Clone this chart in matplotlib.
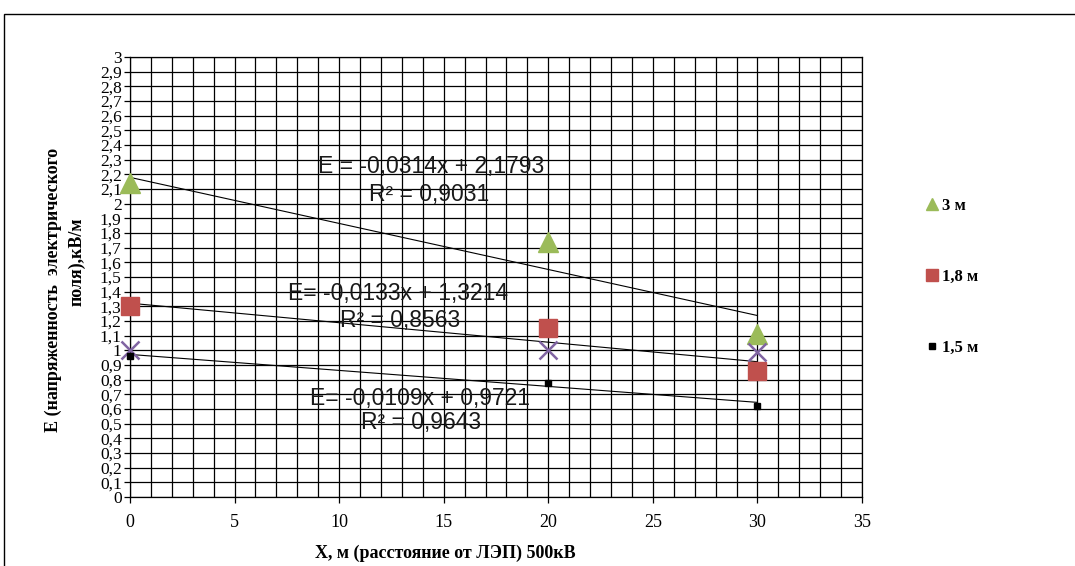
import matplotlib
matplotlib.use("Agg")
import matplotlib.pyplot as plt
import numpy as np
from matplotlib.ticker import MultipleLocator, FuncFormatter
from matplotlib.patches import Rectangle

# ── Data ─────────────────────────────────────────────────
distance = [0, 20, 30]
e_3m = [2.14, 1.74, 1.11]
e_18m = [1.30, 1.15, 0.86]
e_extra = [1.00, 1.00, 0.99]
e_15m = [0.96, 0.78, 0.62]

# trend lines: slope, intercept, R²
fit_slope = [-0.0314, -0.0133, -0.0109]
fit_intercept = [2.1793, 1.3214, 0.9721]
fit_r2 = [0.9031, 0.8563, 0.9643]
fit_eq_prefix = ["E = ", "E= ", "E= "]

legend_labels = ["3 м", "1,8 м", "1,5 м"]

# ── Figure ───────────────────────────────────────────────
W, H = 1075, 566
fig = plt.figure(figsize=(W / 100, H / 100), dpi=100)
ax = fig.add_axes([130 / W, 1 - 497 / H, (862 - 130) / W, (497 - 57) / H])

# outer frame (clipped at right and bottom like the source)
fig.patches.append(Rectangle((4 / W, -0.2), 1.2, 1 - 14 / H + 0.2,
                             transform=fig.transFigure, fill=False,
                             edgecolor="black", linewidth=1.0))

ax.set_xlim(0, 35)
ax.set_ylim(0, 3)

ax.xaxis.set_major_locator(MultipleLocator(5))
ax.xaxis.set_minor_locator(MultipleLocator(1))
ax.yaxis.set_major_locator(MultipleLocator(0.1))


def comma_fmt(v, pos):
    s = f"{v:.1f}".rstrip("0").rstrip(".")
    return s.replace(".", ",")


ax.yaxis.set_major_formatter(FuncFormatter(comma_fmt))

ax.grid(True, which="both", color="black", linewidth=0.9, zorder=0)
ax.set_axisbelow(True)
for sp in ax.spines.values():
    sp.set_color("black")
    sp.set_linewidth(0.9)

ax.tick_params(axis="both", which="major", direction="out", length=4,
               width=0.9, color="black", labelsize=13, pad=3)
ax.tick_params(axis="y", which="major", labelsize=12.5, pad=2)
ax.tick_params(axis="x", which="minor", length=0)
ax.tick_params(axis="x", which="major", pad=8)
for lbl in ax.get_xticklabels() + ax.get_yticklabels():
    lbl.set_fontfamily("Liberation Serif")

# ── Trend lines ──────────────────────────────────────────
xs = np.array([min(distance), max(distance)], dtype=float)
for a, b in zip(fit_slope, fit_intercept):
    ax.plot(xs, a * xs + b, color="black", linewidth=0.8, zorder=3)

# ── Series ───────────────────────────────────────────────
h3, = ax.plot(distance, e_3m, linestyle="none", marker="^", markersize=14,
              color="#9BBB59", zorder=4, clip_on=False, label=legend_labels[0])
h18, = ax.plot(distance, e_18m, linestyle="none", marker="s", markersize=13,
               color="#C0504D", zorder=4, clip_on=False, label=legend_labels[1])
ax.plot(distance, e_extra, linestyle="none", marker="x", markersize=13,
        markeredgewidth=1.8, color="#8064A2", zorder=5, clip_on=False,
        label="_nolegend_")
h15, = ax.plot(distance, e_15m, linestyle="none", marker="s", markersize=5,
               color="black", zorder=6, clip_on=False, label=legend_labels[2])

# ── Equation labels ─────────────────────────────────────
def px2data(px, py):
    return (px - 130) / (862 - 130) * 35, (497 - py) / (497 - 57) * 3


eq_pos = [(431, 167), (398, 293), (420, 398)]
r2_pos = [(429, 195), (400, 320), (421, 423)]
for i in range(3):
    eq = f"{fit_eq_prefix[i]}{fit_slope[i]:.4f}x + {fit_intercept[i]:.4f}".replace(".", ",")
    x0, y0 = px2data(*eq_pos[i])
    ax.text(x0, y0, eq, ha="center", va="center", fontsize=16.5,
            family="Liberation Sans", color="#1a1a1a", zorder=7)
    x1, y1 = px2data(*r2_pos[i])
    ax.text(x1, y1, f"R² = {fit_r2[i]:.4f}".replace(".", ","), ha="center",
            va="center", fontsize=16.5, family="Liberation Sans",
            color="#1a1a1a", zorder=7)

# ── Axis titles ──────────────────────────────────────────
fig.text(445 / W, 1 - 553 / H, "X, м (расстояние от ЛЭП) 500кВ",
         ha="center", va="center", fontsize=13, fontweight="bold",
         family="Liberation Serif")
fig.text(53 / W, 1 - 290 / H, "E (напряженность  электрического",
         ha="center", va="center", rotation=90, fontsize=13,
         fontweight="bold", family="Liberation Serif")
fig.text(77 / W, 1 - 262 / H, "поля),кВ/м",
         ha="center", va="center", rotation=90, fontsize=13,
         fontweight="bold", family="Liberation Serif")

# ── Legend ───────────────────────────────────────────────
leg = ax.legend(handles=[h3, h18, h15], loc="upper left",
                bbox_to_anchor=(926 / W, 1 - 198 / H),
                bbox_transform=fig.transFigure, frameon=False,
                handlelength=0.7, handletextpad=0.25, labelspacing=3.3,
                borderpad=0, borderaxespad=0,
                prop={"family": "Liberation Serif", "weight": "bold", "size": 12})
for hnd, ms in zip(leg.legend_handles, [8, 8, 5]):
    hnd.set_markersize(ms)

fig.savefig("out.png", dpi=100)
